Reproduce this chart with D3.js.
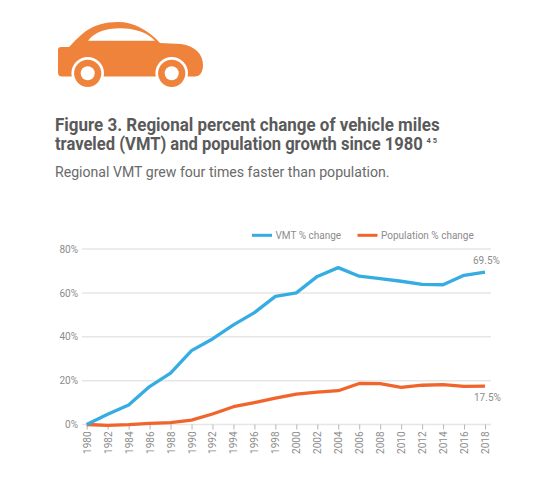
<!DOCTYPE html>
<html lang="en">
<head>
<meta charset="UTF-8">
<title>Regional VMT and population growth</title>
<script src="https://d3js.org/d3.v7.min.js"></script>
<style>
  body { margin: 0; background: #fff; }
  svg text { font-family: Roboto, "DejaVu Sans", sans-serif; }
</style>
</head>
<body>
<svg id="chart" width="551" height="480"></svg>
<script>
// data
const years = [1980, 1982, 1984, 1986, 1988, 1990, 1992, 1994, 1996, 1998,
               2000, 2002, 2004, 2006, 2008, 2010, 2012, 2014, 2016, 2018];
const vmtChange = [0, 4.7, 8.9, 17.3, 23.4, 33.7, 39, 45.4, 51, 58.4,
                   60, 67.5, 71.5, 67.6, 66.5, 65.3, 63.9, 63.7, 68, 69.5];
const popChange = [0, -0.4, -0.1, 0.5, 0.9, 2, 4.8, 8.1, 10, 12,
                   13.8, 14.8, 15.4, 18.7, 18.6, 16.9, 17.9, 18.2, 17.4, 17.5];
const yTicks = [0, 20, 40, 60, 80];
const seriesNames = ['VMT % change', 'Population % change'];
const endLabels = ['69.5%', '17.5%'];

const blue = '#35ade3';
const orange = '#f0652c';
const iconOrange = '#f0833b';
const grey = '#8c8c8c';

const svg = d3.select('#chart');

// car icon
const car = svg.append('g');
car.append('path')
    .attr('fill', iconOrange)
    .attr('d', 'M58,50 Q58,47 61,47 L69,47 C73,43 78,37 86,31 C95,25 105,22 118,22 C134,22 148,30 160,43 L181,44 C196,46 203,55 203,65 C203,72 200,76.5 195,76.5 L62,76.5 Q58,76.5 58,72.5 Z');
car.append('path')
    .attr('fill', '#fff')
    .attr('d', 'M88,40.7 C95,32 105,28.3 120,28.3 C135,28.3 148,33 155,40.7 Z');
[87.7, 171.7].forEach(cx => {
    car.append('circle').attr('cx', cx).attr('cy', 73.3).attr('r', 16.3).attr('fill', '#fff');
    car.append('circle').attr('cx', cx).attr('cy', 73.3).attr('r', 13.6).attr('fill', iconOrange);
    car.append('circle').attr('cx', cx).attr('cy', 73.3).attr('r', 7).attr('fill', '#fff');
});

// titles: squeeze horizontally to the narrow width of the original face
function squeezed(str, x, y, size, weight, fill, width) {
    const t = svg.append('text')
        .attr('font-size', size).attr('font-weight', weight).attr('fill', fill)
        .text(str);
    const k = width / t.node().getComputedTextLength();
    t.attr('transform', `translate(${x},${y}) scale(${k},1)`);
    return t;
}
squeezed('Figure 3. Regional percent change of vehicle miles', 55, 130.5, 17.5, 700, '#5a5a5a', 385);
squeezed('traveled (VMT) and population growth since 1980', 55, 150, 17.5, 700, '#5a5a5a', 368);
svg.append('text')
    .attr('x', 426.5).attr('y', 142.5)
    .attr('font-size', 7.5).attr('font-weight', 700).attr('fill', '#5a5a5a')
    .text('4 5');
squeezed('Regional VMT grew four times faster than population.', 55, 176.5, 14, 400, '#6a6a6a', 335);

// scales
const xScale = d3.scaleLinear().domain([1980, 2018]).range([86.7, 485]);
const yScale = d3.scaleLinear().domain([0, 80]).range([424.5, 249]);

// gridlines
svg.append('g')
    .selectAll('line')
    .data(yTicks)
    .join('line')
    .attr('x1', 82).attr('x2', 491)
    .attr('y1', d => yScale(d)).attr('y2', d => yScale(d))
    .attr('stroke', '#e6e6e6').attr('stroke-width', 1.5);

// y axis labels
const yAxis = svg.append('g')
    .attr('transform', 'translate(82,0)')
    .call(d3.axisLeft(yScale).tickValues(yTicks).tickSize(0).tickPadding(4).tickFormat(d => d + '%'));
yAxis.select('.domain').remove();
yAxis.selectAll('text').attr('font-size', 10).attr('fill', grey).attr('font-family', null);

// x axis
const xAxis = svg.append('g')
    .attr('transform', `translate(0,${yScale(0)})`)
    .call(d3.axisBottom(xScale).tickValues(years).tickSize(5).tickFormat(d3.format('d')));
xAxis.select('.domain').remove();
xAxis.selectAll('.tick line').attr('stroke', '#b5b5b5');
xAxis.selectAll('text')
    .attr('font-size', 10).attr('fill', grey).attr('font-family', null)
    .attr('transform', 'rotate(-90)')
    .attr('text-anchor', 'end')
    .attr('x', -7).attr('y', 0).attr('dy', '0.35em');

// lines
const line = d3.line()
    .x((d, i) => xScale(years[i]))
    .y(d => yScale(d));

svg.append('path')
    .datum(popChange)
    .attr('fill', 'none').attr('stroke', orange).attr('stroke-width', 3.3)
    .attr('stroke-linejoin', 'round')
    .attr('d', line);
svg.append('path')
    .datum(vmtChange)
    .attr('fill', 'none').attr('stroke', blue).attr('stroke-width', 3.3)
    .attr('stroke-linejoin', 'round')
    .attr('d', line);

// end labels
svg.append('text')
    .attr('x', 473).attr('y', 264)
    .attr('font-size', 10).attr('fill', grey)
    .text(endLabels[0]);
svg.append('text')
    .attr('x', 474).attr('y', 400.5)
    .attr('font-size', 10).attr('fill', grey)
    .text(endLabels[1]);

// legend
const legend = svg.append('g');
[[252, blue], [357.5, orange]].forEach(([lx, c], i) => {
    legend.append('line')
        .attr('x1', lx).attr('x2', lx + 20)
        .attr('y1', 235.3).attr('y2', 235.3)
        .attr('stroke', c).attr('stroke-width', 3);
    legend.append('text')
        .attr('x', lx + 23.5).attr('y', 238.8)
        .attr('font-size', 10).attr('fill', grey)
        .text(seriesNames[i]);
});
</script>
</body>
</html>
